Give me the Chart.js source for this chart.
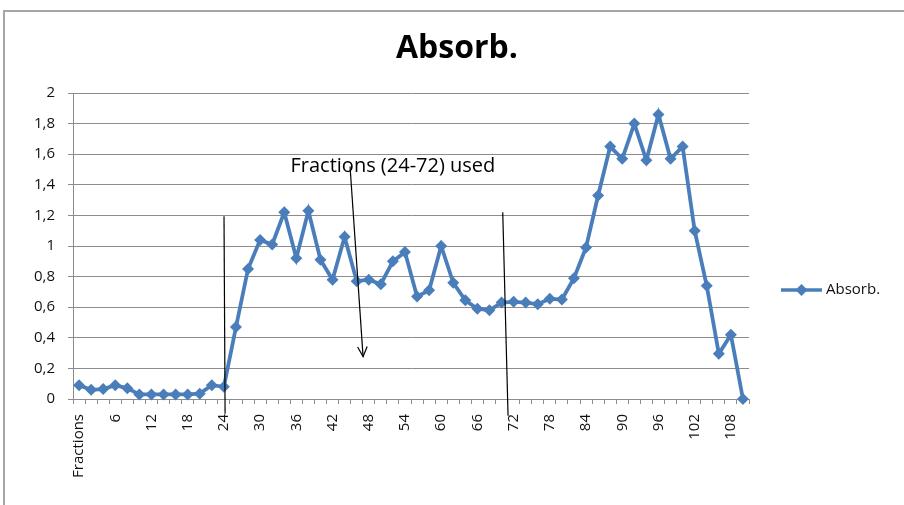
<!DOCTYPE html>
<html>
<head>
<meta charset="utf-8">
<script src="https://cdn.jsdelivr.net/npm/chart.js@4.4.1/dist/chart.umd.min.js"></script>
<style>
  html, body { margin: 0; padding: 0; background: #fff; }
  #c { display: block; }
</style>
</head>
<body>
<canvas id="c" width="904" height="505"></canvas>
<script>
const chartTitle = 'Absorb.';
const seriesName = 'Absorb.';
const categories = ['Fractions','2','4','6','8','10','12','14','16','18','20','22','24','26','28','30','32','34','36','38','40','42','44','46','48','50','52','54','56','58','60','62','64','66','68','70','72','74','76','78','80','82','84','86','88','90','92','94','96','98','100','102','104','106','108','110'];
const absorb = [0.09,0.06,0.065,0.09,0.07,0.03,0.03,0.03,0.03,0.03,0.035,0.09,0.08,0.47,0.85,1.04,1.01,1.22,0.92,1.23,0.91,0.78,1.06,0.77,0.78,0.75,0.90,0.96,0.67,0.71,1.00,0.76,0.645,0.59,0.58,0.63,0.635,0.63,0.62,0.655,0.65,0.79,0.99,1.33,1.65,1.57,1.80,1.56,1.86,1.57,1.65,1.10,0.74,0.295,0.42,0.0];
const yTicks = { min: 0, max: 2, step: 0.2 };
const noteText = 'Fractions (24-72) used';
// annotation geometry in data units (category index, value)
const noteLines = [
  { x1: 12.01, y1: 1.195, x2: 12.1, y2: -0.097 },
  { x1: 35.1, y1: 1.22, x2: 35.54, y2: -0.11 }
];
const noteArrow = { x1: 22.45, y1: 1.52, x2: 23.53, y2: 0.277 };
const notePos = { x: 26.0, y: 1.52 };

const FONT = '"Open Sans", Lato, sans-serif';
const BLUE = '#4A7EBB';
const GRID = '#8c8c8c';

const decorations = {
  id: 'decorations',
  afterDraw(chart) {
    const ctx = chart.ctx;
    const xs = chart.scales.x, ys = chart.scales.y;
    ctx.save();
    // frame (top + left)
    ctx.strokeStyle = '#a6a6a6';
    ctx.lineWidth = 2;
    ctx.beginPath();
    ctx.moveTo(4, 505); ctx.lineTo(4, 11); ctx.lineTo(904, 11);
    ctx.stroke();
    // title
    ctx.fillStyle = '#000';
    ctx.font = 'bold 32px ' + FONT;
    ctx.textAlign = 'center';
    ctx.textBaseline = 'alphabetic';
    ctx.fillText(chartTitle, 457, 58);
    // annotation lines
    ctx.strokeStyle = '#000';
    ctx.lineWidth = 1.2;
    noteLines.forEach(l => {
      ctx.beginPath();
      ctx.moveTo(xs.getPixelForValue(l.x1), ys.getPixelForValue(l.y1));
      ctx.lineTo(xs.getPixelForValue(l.x2), ys.getPixelForValue(l.y2));
      ctx.stroke();
    });
    // arrow
    const ax1 = xs.getPixelForValue(noteArrow.x1), ay1 = ys.getPixelForValue(noteArrow.y1);
    const ax2 = xs.getPixelForValue(noteArrow.x2), ay2 = ys.getPixelForValue(noteArrow.y2);
    ctx.beginPath(); ctx.moveTo(ax1, ay1); ctx.lineTo(ax2, ay2); ctx.stroke();
    const ang = Math.atan2(ay2 - ay1, ax2 - ax1);
    const hl = 11, ha = 0.45;
    ctx.beginPath();
    ctx.moveTo(ax2 - hl * Math.cos(ang - ha), ay2 - hl * Math.sin(ang - ha));
    ctx.lineTo(ax2, ay2);
    ctx.lineTo(ax2 - hl * Math.cos(ang + ha), ay2 - hl * Math.sin(ang + ha));
    ctx.stroke();
    // note text
    ctx.font = '20px ' + FONT;
    ctx.fillStyle = '#000';
    ctx.textAlign = 'center';
    ctx.textBaseline = 'middle';
    ctx.fillText(noteText, xs.getPixelForValue(notePos.x), ys.getPixelForValue(notePos.y));
    // legend
    const ly = 290;
    ctx.strokeStyle = BLUE; ctx.lineWidth = 3.5;
    ctx.beginPath(); ctx.moveTo(781, ly); ctx.lineTo(822, ly); ctx.stroke();
    ctx.fillStyle = BLUE;
    ctx.beginPath();
    ctx.moveTo(801.5, ly - 6); ctx.lineTo(807.5, ly); ctx.lineTo(801.5, ly + 6); ctx.lineTo(795.5, ly);
    ctx.closePath(); ctx.fill();
    ctx.fillStyle = '#111';
    ctx.font = '15px ' + FONT;
    ctx.textAlign = 'left';
    ctx.textBaseline = 'middle';
    ctx.fillText(seriesName, 826, ly);
    ctx.restore();
  }
};

new Chart(document.getElementById('c'), {
  type: 'line',
  data: {
    labels: categories,
    datasets: [{
      label: seriesName,
      data: absorb,
      borderColor: BLUE,
      backgroundColor: BLUE,
      borderWidth: 3.8,
      pointStyle: 'rectRot',
      pointRadius: 6,
      pointHoverRadius: 6,
      pointBorderWidth: 0,
      tension: 0,
      clip: false
    }]
  },
  options: {
    responsive: false,
    animation: false,
    events: [],
    layout: { padding: { left: 0, top: 93, right: 155, bottom: 0 } },
    plugins: { legend: { display: false }, title: { display: false }, tooltip: { enabled: false } },
    scales: {
      x: {
        type: 'category',
        offset: true,
        afterFit(s) { s.height = 106; },
        grid: { offset: true, drawOnChartArea: false, drawTicks: true, tickLength: 5, color: GRID },
        border: { color: GRID, width: 1 },
        ticks: {
          autoSkip: false,
          minRotation: 90, maxRotation: 90,
          padding: 10,
          color: '#111',
          font: { family: FONT, size: 15 },
          callback(v, i) { return i % 3 === 0 ? categories[i] : ''; }
        }
      },
      y: {
        min: yTicks.min, max: yTicks.max,
        afterFit(s) { s.width = 73; },
        grid: { color: GRID, lineWidth: 1, tickLength: 5 },
        border: { color: GRID, width: 1 },
        ticks: {
          stepSize: yTicks.step,
          padding: 13,
          color: '#111',
          font: { family: FONT, size: 15 },
          callback(v) { return String(Math.round(v * 10) / 10).replace('.', ','); }
        }
      }
    }
  },
  plugins: [decorations]
});
</script>
</body>
</html>
